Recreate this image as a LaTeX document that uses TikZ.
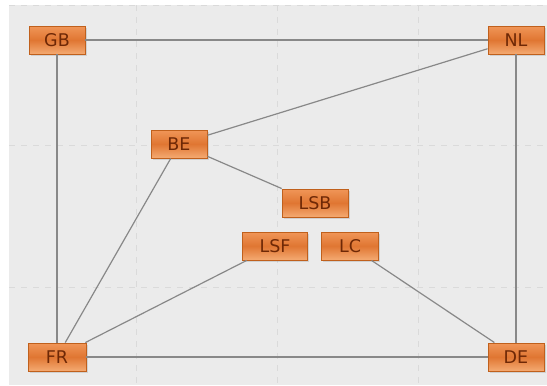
\documentclass[tikz,border=0pt]{standalone}
\usepackage{fontspec}
\setmainfont{DejaVu Sans}
\usetikzlibrary{shadows}
\definecolor{canvas}{HTML}{EBEBEB}
\definecolor{gridc}{HTML}{DADADA}
\definecolor{linkc}{HTML}{888888}
\definecolor{boxtop}{HTML}{F09658}
\definecolor{boxmid}{HTML}{E07632}
\definecolor{boxbot}{HTML}{F4AA72}
\definecolor{boxedge}{HTML}{C0601C}
\definecolor{labelc}{HTML}{6E2806}
\tikzset{
  site/.style={rectangle, draw=boxedge, line width=0.9pt,
    top color=boxtop, bottom color=boxbot, middle color=boxmid,
    text=labelc, font=\fontsize{17.5}{19}\selectfont,
    inner xsep=0pt, inner ysep=0pt, minimum height=28pt, minimum width=56pt,
    drop shadow={opacity=0.25, shadow xshift=1.5pt, shadow yshift=-1.5pt}},
  link/.style={draw=linkc, line width=1.2pt},
  gridline/.style={draw=gridc, line width=0.9pt, dash pattern=on 6pt off 6pt}
}
\begin{document}
\begin{tikzpicture}[x=1pt,y=-1pt]
  \useasboundingbox (0,0) rectangle (547,386);
  \fill[white] (0,0) rectangle (547,386);
  \fill[canvas] (9,5) rectangle (547,385);
  % background grid
  \foreach \gx in {136,277,418} \draw[gridline] (\gx,5) -- (\gx,385);
  \foreach \gy in {5,145,287} \draw[gridline] (9,\gy) -- (547,\gy);

  % stations
  \node[site] (GB)  at (57,40)   {GB};
  \node[site] (NL)  at (516,40)  {NL};
  \node[site] (BE)  at (179,144) {BE};
  \node[site, minimum width=66pt] (LSB) at (315,203) {LSB};
  \node[site, minimum width=65pt] (LSF) at (275,246) {LSF};
  \node[site, minimum width=57pt] (LC)  at (350,246) {LC};
  \node[site, minimum width=58pt] (FR)  at (57,357)  {FR};
  \node[site] (DE)  at (516,357) {DE};

  % links between stations
  \draw[link] (GB) -- (NL);
  \draw[link] (GB) -- (FR);
  \draw[link] (NL) -- (DE);
  \draw[link] (FR) -- (DE);
  \draw[link] (BE) -- (NL);
  \draw[link] (BE) -- (LSB);
  \draw[link] (BE) -- (FR);
  \draw[link] (LSF) -- (FR);
  \draw[link] (LC) -- (DE);
\end{tikzpicture}
\end{document}
